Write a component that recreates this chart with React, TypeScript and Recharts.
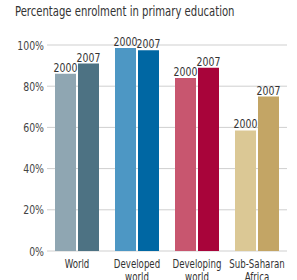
import React from "react";
import { BarChart, Bar, XAxis, YAxis, CartesianGrid, Cell, LabelList } from "recharts";

const regions = ["World", "Developed world", "Developing world", "Sub-Saharan Africa"];
const enrol2000 = [86, 98.5, 84, 58.5];
const enrol2007 = [91, 97.5, 89, 75];
const colors2000 = ["#8fa6b2", "#4d97c4", "#c8566f", "#dbc895"];
const colors2007 = ["#4d7283", "#0067a3", "#a8043a", "#c3a565"];
const yTicks = [0, 20, 40, 60, 80, 100];

const data = regions.map((region, i) => ({
  region,
  y2000: enrol2000[i],
  y2007: enrol2007[i],
}));

const FONT = "'DejaVu Sans Condensed', 'DejaVu Sans', sans-serif";
const SQUEEZE = 0.8; // fake a narrow font

// text squeezed horizontally around its anchor point
const Narrow = ({ x, y, anchor = "middle", size, fill = "#333", children }: any) => (
  <text
    transform={`translate(${x},${y}) scale(${SQUEEZE},1)`}
    x={0}
    y={0}
    textAnchor={anchor}
    fontSize={size}
    fontFamily={FONT}
    fill={fill}
  >
    {children}
  </text>
);

const RegionTick = (props: any) => {
  const { x, y, payload } = props;
  const words = String(payload.value).split(" ");
  return (
    <g>
      {words.map((w: string, i: number) => (
        <Narrow key={i} x={x} y={y + 8.5 + i * 13} size={12}>
          {w}
        </Narrow>
      ))}
    </g>
  );
};

const PctTick = (props: any) => {
  const { x, y, payload } = props;
  return (
    <Narrow x={x} y={y + 4.5} anchor="end" size={13} fill="#444">
      {payload.value}%
    </Narrow>
  );
};

const yearLabel = (year: string) => (props: any) => {
  const { x, y, width } = props;
  return (
    <Narrow x={x + width / 2} y={y - 2} size={13}>
      {year}
    </Narrow>
  );
};

export default function App() {
  return (
    <div style={{ position: "absolute", left: 0, top: 0, width: 297, height: 280, background: "#fff" }}>
      <svg width={297} height={30} style={{ position: "absolute", left: 0, top: 0 }}>
        <Narrow x={15} y={16} anchor="start" size={14}>
          Percentage enrolment in primary education
        </Narrow>
      </svg>
      <BarChart
        width={297}
        height={280}
        data={data}
        margin={{ top: 45, right: 10, bottom: 3, left: 7 }}
        barSize={21}
        barGap={2}
      >
        <CartesianGrid vertical={false} stroke="#cfcfcf" />
        <XAxis
          dataKey="region"
          axisLine={false}
          tickLine={false}
          interval={0}
          height={26}
          tick={<RegionTick />}
        />
        <YAxis
          domain={[0, 100]}
          ticks={yTicks}
          width={40}
          axisLine={false}
          tickLine={false}
          tickSize={0}
          tickMargin={3}
          tick={<PctTick />}
        />
        <Bar dataKey="y2000" isAnimationActive={false}>
          {data.map((_, i) => (
            <Cell key={i} fill={colors2000[i]} />
          ))}
          <LabelList dataKey="y2000" content={yearLabel("2000")} />
        </Bar>
        <Bar dataKey="y2007" isAnimationActive={false}>
          {data.map((_, i) => (
            <Cell key={i} fill={colors2007[i]} />
          ))}
          <LabelList dataKey="y2007" content={yearLabel("2007")} />
        </Bar>
      </BarChart>
    </div>
  );
}
